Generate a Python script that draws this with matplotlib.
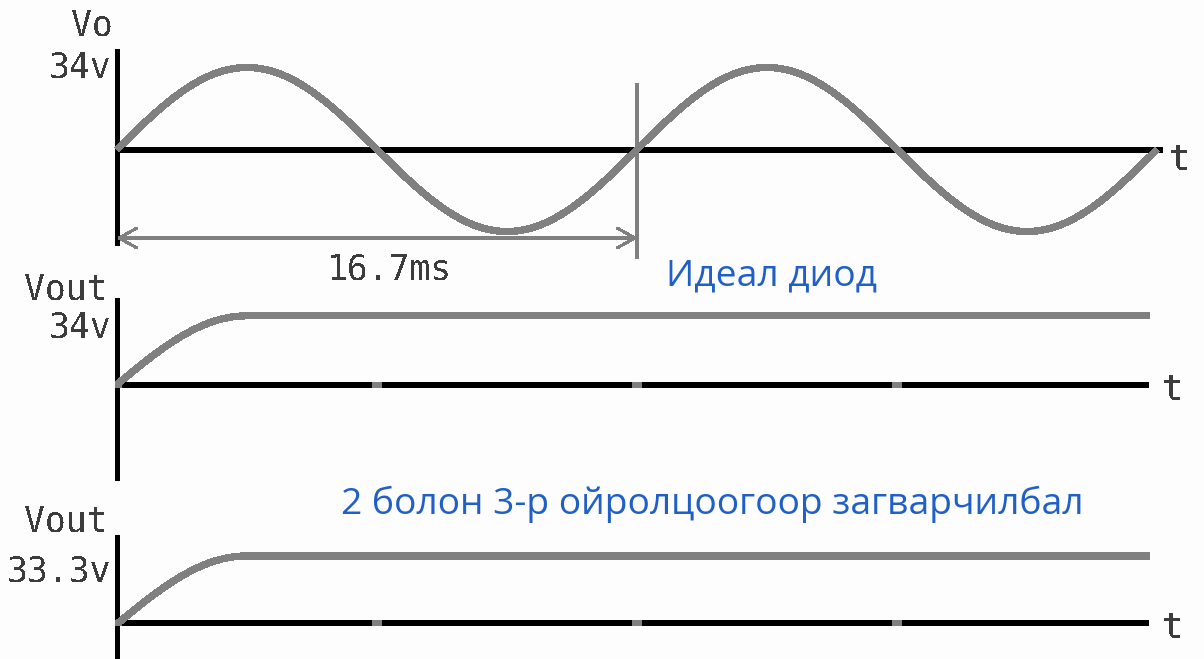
import numpy as np
import matplotlib
matplotlib.use("Agg")
import matplotlib.pyplot as plt

# ---- signal definition -------------------------------------------------
AMPLITUDE_V = 34.0          # peak of the secondary voltage
PERIOD_MS = 16.7            # one mains period (60 Hz)
N_PERIODS = 2
DIODE_DROP_V = 0.7          # 34 V - 0.7 V = 33.3 V
OUT_WINDOW_MS = 33.15       # visible span of the output traces

panel_names = ["Vo", "Vout", "Vout"]
panel_peaks = ["34v", "34v", "33.3v"]
period_label = "16.7ms"
caption_ideal = "Идеал диод"
caption_model = "2 болон 3-р ойролцоогоор загварчилбал"

t_in = np.linspace(0, N_PERIODS * PERIOD_MS, 1200)
vo = AMPLITUDE_V * np.sin(2 * np.pi * t_in / PERIOD_MS)

t_out = np.linspace(0, OUT_WINDOW_MS, 1200)
vs = AMPLITUDE_V * np.sin(2 * np.pi * t_out / PERIOD_MS)
vout_ideal = np.maximum.accumulate(np.clip(vs, 0, None))
vout_model = np.maximum.accumulate(np.clip(vs - DIODE_DROP_V, 0, None))
zero_crossings = np.arange(0, 2 * N_PERIODS) * PERIOD_MS / 2

# ---- layout (pixels) ---------------------------------------------------
W, H = 1204, 659
X0 = 117                       # pixel column of the vertical axes
PX_PER_MS = 520 / PERIOD_MS
GREY = "#808080"
INK = "#3c3c3c"
BLUE = "#1f5fc6"
BG = "#fdfdfd"

fig = plt.figure(figsize=(W / 100, H / 100), dpi=100, facecolor=BG)


def make_panel(zero_px, px_per_v):
    ax = fig.add_axes([0, 0, 1, 1])
    ax.set_xlim(-X0 / PX_PER_MS, (W - X0) / PX_PER_MS)
    ax.set_ylim((zero_px - H) / px_per_v, zero_px / px_per_v)
    ax.axis("off")
    ax.patch.set_alpha(0)
    return ax


def v_at(zero_px, px_per_v, y_px):
    return (zero_px - y_px) / px_per_v


def ftext(x_px, y_px, s, **kw):
    fig.text(x_px / W, 1 - y_px / H, s, **kw)


pix = dict(family="DejaVu Sans Mono", fontsize=25, color=INK, antialiased=False)
curve = dict(color=GREY, lw=4.5, antialiased=False, solid_capstyle="butt",
             solid_joinstyle="miter", zorder=3)
axis_kw = dict(color="black", antialiased=False, solid_capstyle="butt", zorder=2)

# ---- panel 1: input sine ----------------------------------------------
z1, k1 = 149.5, 82 / AMPLITUDE_V
ax1 = make_panel(z1, k1)
ax1.plot([0, 0], [v_at(z1, k1, 245), v_at(z1, k1, 49)], lw=2.2, **axis_kw)
ax1.plot([0, (1163 - X0) / PX_PER_MS], [0, 0], lw=2.9, **axis_kw)
ax1.plot(t_in, vo, **curve)
ax1.plot([PERIOD_MS, PERIOD_MS], [v_at(z1, k1, 257), v_at(z1, k1, 85)],
         color=GREY, lw=1.5, antialiased=False, zorder=2)
ya = v_at(z1, k1, 238)
ax1.annotate("", xy=(PERIOD_MS, ya), xytext=(0, ya),
             arrowprops=dict(arrowstyle="<->,head_length=1.25,head_width=0.7",
                             color=GREY, lw=1.5, shrinkA=0, shrinkB=0,
                             mutation_scale=10, antialiased=False))

# ---- panel 2: ideal diode ---------------------------------------------
z2, k2 = 384.5, 2.02
ax2 = make_panel(z2, k2)
ax2.plot([0, 0], [v_at(z2, k2, 480), v_at(z2, k2, 298)], lw=2.2, **axis_kw)
ax2.plot([0, OUT_WINDOW_MS], [0, 0], lw=2.9, **axis_kw)
ax2.plot(t_out, vout_ideal, **curve)
for tz in zero_crossings:
    ax2.plot([tz - 0.17 if tz > 0 else -0.08, tz + 0.17], [0, 0], color=GREY,
             lw=2.9, antialiased=False, solid_capstyle="butt", zorder=4)

# ---- panel 3: diode with 0.7 V drop -----------------------------------
z3, k3 = 622.5, 2.0
ax3 = make_panel(z3, k3)
ax3.plot([0, 0], [v_at(z3, k3, 662), v_at(z3, k3, 535)], lw=2.2, **axis_kw)
ax3.plot([0, OUT_WINDOW_MS], [0, 0], lw=2.9, **axis_kw)
ax3.plot(t_out, vout_model, **curve)
for tz in zero_crossings:
    ax3.plot([tz - 0.17 if tz > 0 else -0.08, tz + 0.17], [0, 0], color=GREY,
             lw=2.9, antialiased=False, solid_capstyle="butt", zorder=4)

# ---- labels -------------------------------------------------------------
ftext(113, 35, panel_names[0], ha="right", va="baseline", **pix)
ftext(111, 78, panel_peaks[0], ha="right", va="baseline", **pix)
ftext(108, 300, panel_names[1], ha="right", va="baseline", **pix)
ftext(111, 337, panel_peaks[1], ha="right", va="baseline", **pix)
ftext(108, 532, panel_names[2], ha="right", va="baseline", **pix)
ftext(111, 582, panel_peaks[2], ha="right", va="baseline", **pix)
ftext(389, 280, period_label, ha="center", va="baseline", **pix)
for x_px, y_px in [(1179, 170), (1172, 400), (1172, 638)]:
    ftext(x_px, y_px, "t", ha="center", va="baseline", **pix)

blue = dict(family="Open Sans", fontsize=26.8, color=BLUE)
ftext(666, 285, caption_ideal, ha="left", va="baseline", **blue)
ftext(341, 514, caption_model, ha="left", va="baseline", **blue)

fig.savefig("out.png", dpi=100, facecolor=BG)
